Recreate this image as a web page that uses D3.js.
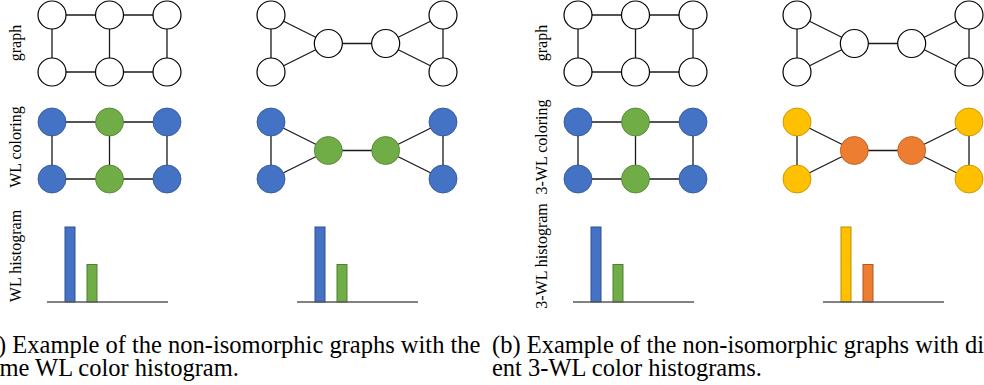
<!DOCTYPE html>
<html>
<head>
<meta charset="utf-8">
<script src="https://cdn.jsdelivr.net/npm/d3@7"></script>
<style>
  body { margin: 0; background: #fff; }
  svg { display: block; }
</style>
</head>
<body>
<svg width="984" height="385"></svg>
<script>
// ---- data ----
const rowLabelsA = ['graph', 'WL coloring', 'WL histogram'];
const rowLabelsB = ['graph', '3-WL coloring', '3-WL histogram'];

// grid graph (2x3 ladder), node = [col, row]
const gridNodes = [[0, 0], [1, 0], [2, 0], [0, 1], [1, 1], [2, 1]];
const gridEdges = [[0, 1], [1, 2], [3, 4], [4, 5], [0, 3], [1, 4], [2, 5]];

// bowtie graph (two triangles joined), node = [col, row]
const bowNodes = [[0, 0], [0, 2], [1, 1], [2, 1], [3, 0], [3, 2]];
const bowEdges = [[0, 1], [0, 2], [1, 2], [2, 3], [3, 4], [3, 5], [4, 5]];

const gridWL = ['blue', 'green', 'blue', 'blue', 'green', 'blue'];
const bowWL = ['blue', 'blue', 'green', 'green', 'blue', 'blue'];
const bow3WL = ['yellow', 'yellow', 'orange', 'orange', 'yellow', 'yellow'];

const histGridWL = [{ c: 'blue', n: 4 }, { c: 'green', n: 2 }];
const histBowWL = [{ c: 'blue', n: 4 }, { c: 'green', n: 2 }];
const histGrid3WL = [{ c: 'blue', n: 4 }, { c: 'green', n: 2 }];
const histBow3WL = [{ c: 'yellow', n: 4 }, { c: 'orange', n: 2 }];

const captionA = ['(a) Example of the non-isomorphic graphs with the', 'same WL color histogram.'];
const captionB = ['(b) Example of the non-isomorphic graphs with differ-', 'ent 3-WL color histograms.'];

const palette = {
  white:  { fill: '#ffffff', stroke: '#000000' },
  blue:   { fill: '#4472c4', stroke: '#2f528f' },
  green:  { fill: '#70ad47', stroke: '#507e32' },
  yellow: { fill: '#ffc000', stroke: '#bc8c00' },
  orange: { fill: '#ed7d31', stroke: '#ae5a21' }
};

const serif = "'Liberation Serif', 'Times New Roman', Times, serif";

const svg = d3.select('svg');

const nodeR = 14;
const rowStep = 107;

// scales for the two graph shapes
const gx = d3.scaleLinear().domain([0, 2]).range([52, 167]);
const gy = d3.scaleLinear().domain([0, 1]).range([15, 72]);
const bx = d3.scaleLinear().domain([0, 3]).range([271, 443]);
const by = d3.scaleLinear().domain([0, 2]).range([15, 72]);

function drawGraph(parent, nodes, edges, colors, xs, ys) {
  const g = parent.append('g');
  g.selectAll('line')
    .data(edges)
    .join('line')
    .attr('x1', d => xs(nodes[d[0]][0]))
    .attr('y1', d => ys(nodes[d[0]][1]))
    .attr('x2', d => xs(nodes[d[1]][0]))
    .attr('y2', d => ys(nodes[d[1]][1]))
    .attr('stroke', '#1a1a1a')
    .attr('stroke-width', 1.3);
  g.selectAll('circle')
    .data(nodes)
    .join('circle')
    .attr('cx', d => xs(d[0]))
    .attr('cy', d => ys(d[1]))
    .attr('r', nodeR)
    .attr('fill', (d, i) => palette[colors ? colors[i] : 'white'].fill)
    .attr('stroke', (d, i) => palette[colors ? colors[i] : 'white'].stroke)
    .attr('stroke-width', colors ? 0.8 : 1.2);
  return g;
}

function drawHist(parent, data, x0) {
  const x = d3.scaleBand()
    .domain(d3.range(data.length))
    .range([x0 + 18, x0 + 50])
    .paddingInner(0.545);
  const y = d3.scaleLinear().domain([0, 4]).range([302, 227]);
  const g = parent.append('g');
  g.selectAll('rect')
    .data(data)
    .join('rect')
    .attr('x', (d, i) => x(i))
    .attr('y', d => y(d.n))
    .attr('width', x.bandwidth())
    .attr('height', d => y(0) - y(d.n))
    .attr('fill', d => palette[d.c].fill)
    .attr('stroke', d => palette[d.c].stroke)
    .attr('stroke-width', 1);
  g.append('line')
    .attr('x1', x0).attr('x2', x0 + 121)
    .attr('y1', y(0)).attr('y2', y(0))
    .attr('stroke', '#595959')
    .attr('stroke-width', 1.6);
}

function drawPanel(dx, labels, leftColors, rightColors, histL, histR, caption, capX) {
  const p = svg.append('g').attr('transform', `translate(${dx},0)`);

  // row labels, rotated
  const labelY = [43, 147, 256];
  p.selectAll('text.row')
    .data(labels)
    .join('text')
    .attr('class', 'row')
    .attr('transform', (d, i) => `translate(21,${labelY[i]}) rotate(-90)`)
    .attr('text-anchor', 'middle')
    .attr('font-family', serif)
    .attr('font-size', 16)
    .text(d => d);

  // row 1: plain graphs
  drawGraph(p, gridNodes, gridEdges, null, gx, gy);
  drawGraph(p, bowNodes, bowEdges, null, bx, by);

  // row 2: coloured graphs
  drawGraph(p, gridNodes, gridEdges, leftColors, gx, gy)
    .attr('transform', `translate(0,${rowStep})`);
  drawGraph(p, bowNodes, bowEdges, rightColors, bx, by)
    .attr('transform', `translate(0,${rowStep})`);

  // row 3: histograms
  drawHist(p, histL, 47);
  drawHist(p, histR, 297);

  svg.append('g')
    .selectAll('text')
    .data(caption)
    .join('text')
    .attr('x', capX)
    .attr('y', (d, i) => 353 + i * 23)
    .attr('font-family', serif)
    .attr('font-size', 24.5)
    .text(d => d);
}

drawPanel(0, rowLabelsA, gridWL, bowWL, histGridWL, histBowWL, captionA, -21);
drawPanel(526, rowLabelsB, gridWL, bow3WL, histGrid3WL, histBow3WL, captionB, 492);
</script>
</body>
</html>
